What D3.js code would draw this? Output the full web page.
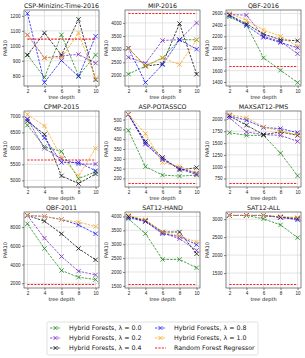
<!DOCTYPE html>
<html>
<head>
<meta charset="utf-8">
<script src="https://cdn.jsdelivr.net/npm/d3@7"></script>
<style>
  body { margin: 0; background: #fff; }
  svg { font-family: "DejaVu Sans", sans-serif; }
</style>
</head>
<body>
<svg id="chart" width="305" height="358"></svg>
<script>
// DATA
const depths = [2, 4, 6, 8, 10];
const lambdas = ["0.0", "0.2", "0.4", "0.8", "1.0"];
const seriesColors = ["#1e8a1e", "#7a2fc0", "#111111", "#1a1aff", "#ffa31a"];
const rfColor = "#ff2020";

const titles = ["CSP-Minizinc-Time-2016", "MIP-2016", "QBF-2016",
  "CPMP-2015", "ASP-POTASSCO", "MAXSAT12-PMS",
  "QBF-2011", "SAT12-HAND", "SAT12-ALL"];

// one array per panel: lambda 0.0, 0.2, 0.4, 0.8, 1.0
const cspValues = [
  [939, 789, 1073, 800, 939],
  [1073, 920, 932, 943, 884],
  [939, 1086, 939, 1177, 773],
  [1216, 755, 902, 795, 1064],
  [1073, 920, 920, 1086, 780]];
const mipValues = [
  [2051, 2359, 2667, 3359, 3359],
  [2692, 2462, 3333, 3359, 4000],
  [3038, 2359, 2436, 3974, 2051],
  [3038, 1731, 2410, 3359, 3000],
  [3038, 2359, 2667, 2410, 3359]];
const qbf16Values = [
  [2540, 2400, 1824, 1606, 1391],
  [2582, 2570, 2200, 2110, 1895],
  [2570, 2418, 2240, 2140, 2122],
  [2570, 2388, 2182, 2090, 2000],
  [2600, 2480, 2310, 2200, 2030]];
const cpmpValues = [
  [6725, 6050, 5900, 5050, 5270],
  [6915, 6000, 5670, 5510, 5510],
  [6850, 6440, 5140, 4900, 5200],
  [6915, 6330, 5560, 5560, 5300],
  [7060, 6700, 5720, 5140, 6000]];
const aspValues = [
  [445, 260, 217, 212, 217],
  [526, 374, 300, 248, 220],
  [526, 388, 307, 243, 255],
  [526, 379, 295, 252, 226],
  [526, 428, 281, 260, 229]];
const maxsatValues = [
  [1721, 1664, 1664, 1286, 807],
  [2036, 1736, 1679, 1664, 1536],
  [2079, 1879, 1679, 1736, 1664],
  [2079, 1986, 1829, 1807, 1721],
  [2107, 2036, 1843, 1757, 1679]];
const qbf11Values = [
  [8357, 5714, 3357, 2643, 2393],
  [9250, 6821, 4857, 3286, 2893],
  [9250, 8643, 7286, 5714, 4500],
  [9250, 9143, 8821, 8250, 7286],
  [9250, 9143, 8821, 8536, 8071]];
const sathandValues = [
  [3916, 3380, 2452, 2452, 2150],
  [4000, 3820, 3410, 3200, 2775],
  [4000, 3855, 3440, 3440, 2655],
  [3950, 3820, 3375, 3280, 2985],
  [4035, 3880, 3440, 3295, 3080]];
const satallValues = [
  [3103, 3103, 3009, 2840, 2484],
  [3103, 3103, 3103, 3047, 3000],
  [3103, 3103, 3103, 3056, 3028],
  [3103, 3103, 3103, 3056, 2981],
  [3103, 3103, 3103, 3075, 3047]];

const rfValues = [1045, 4359, 1672, 5637, 174, 643, 1857, 1548, 1181];
const yTicks = [
  [800, 900, 1000, 1100, 1200],
  [2000, 2500, 3000, 3500, 4000],
  [1400, 1600, 1800, 2000, 2200, 2400, 2600],
  [5000, 5500, 6000, 6500, 7000],
  [200, 250, 300, 350, 400, 450, 500],
  [750, 1000, 1250, 1500, 1750, 2000],
  [2000, 4000, 6000, 8000],
  [1500, 2000, 2500, 3000, 3500, 4000],
  [1500, 2000, 2500, 3000]];

const allValues = [cspValues, mipValues, qbf16Values, cpmpValues, aspValues,
  maxsatValues, qbf11Values, sathandValues, satallValues];

// LAYOUT
const colX = [24, 125, 226];
const rowY = [10, 111, 212];
const pw = 75, ph = 76;

const svg = d3.select("#chart");

const x = d3.scaleLinear().domain([1.6, 10.4]).range([0, pw]);

const line = (y) => d3.line().x((d, i) => x(depths[i])).y(d => y(d));

allValues.forEach((vals, p) => {
  const g = svg.append("g")
    .attr("transform", `translate(${colX[p % 3]},${rowY[Math.floor(p / 3)]})`);

  const flat = vals.flat().concat([rfValues[p]]);
  const lo = d3.min(flat), hi = d3.max(flat), pad = (hi - lo) * 0.05;
  const y = d3.scaleLinear().domain([lo - pad, hi + pad]).range([ph, 0]);

  // grid
  g.append("g").selectAll("line").data(depths).join("line")
    .attr("x1", d => x(d)).attr("x2", d => x(d))
    .attr("y1", 0).attr("y2", ph)
    .attr("stroke", "#d8d8d8").attr("stroke-width", 0.7);
  g.append("g").selectAll("line").data(yTicks[p]).join("line")
    .attr("x1", 0).attr("x2", pw)
    .attr("y1", d => y(d)).attr("y2", d => y(d))
    .attr("stroke", "#d8d8d8").attr("stroke-width", 0.7);

  // axes
  const xa = g.append("g").attr("transform", `translate(0,${ph})`)
    .call(d3.axisBottom(x).tickValues(depths).tickFormat(d3.format("d")).tickSize(2).tickPadding(1.5));
  const ya = g.append("g")
    .call(d3.axisLeft(y).tickValues(yTicks[p]).tickFormat(d3.format("d")).tickSize(2).tickPadding(1.5));
  [xa, ya].forEach(a => {
    a.select(".domain").remove();
    a.selectAll("line").attr("stroke", "#333").attr("stroke-width", 0.6);
    a.selectAll("text").attr("font-size", 4.6).attr("fill", "#222");
  });

  // RF line
  g.append("line")
    .attr("x1", x(2)).attr("x2", x(10))
    .attr("y1", y(rfValues[p])).attr("y2", y(rfValues[p]))
    .attr("stroke", rfColor).attr("stroke-width", 1.1)
    .attr("stroke-dasharray", "2.2,1.2");

  // series
  vals.forEach((s, k) => {
    g.append("path").datum(s)
      .attr("d", line(y))
      .attr("fill", "none")
      .attr("stroke", seriesColors[k])
      .attr("stroke-width", 0.8)
      .attr("stroke-dasharray", "2.4,1.2");
    g.append("g").selectAll("path").data(s).join("path")
      .attr("d", (d, i) => {
        const cx = x(depths[i]), cy = y(d), r = 2.2;
        return `M${cx - r},${cy - r}L${cx + r},${cy + r}M${cx - r},${cy + r}L${cx + r},${cy - r}`;
      })
      .attr("stroke", seriesColors[k])
      .attr("stroke-width", 0.8);
  });

  // frame
  g.append("rect").attr("width", pw).attr("height", ph)
    .attr("fill", "none").attr("stroke", "#333").attr("stroke-width", 0.6);

  // labels
  g.append("text").attr("x", pw / 2).attr("y", -2.2)
    .attr("text-anchor", "middle").attr("font-size", 6.3).attr("fill", "#111")
    .text(titles[p]);
  g.append("text").attr("x", pw / 2).attr("y", ph + 13)
    .attr("text-anchor", "middle").attr("font-size", 5).attr("fill", "#111")
    .text("tree depth");
  g.append("text")
    .attr("transform", `translate(-17.5,${ph / 2}) rotate(-90)`)
    .attr("text-anchor", "middle").attr("font-size", 5).attr("fill", "#111")
    .text("PAR10");
});

// LEGEND
const leg = svg.append("g").attr("transform", "translate(47,322)");
leg.append("rect").attr("width", 211).attr("height", 33).attr("rx", 1.5)
  .attr("fill", "#fff").attr("stroke", "#ccc").attr("stroke-width", 0.6);

const legItems = lambdas.map((l, k) => ({label: `Hybrid Forests, \u03bb = ${l}`, color: seriesColors[k], marker: true}))
  .concat([{label: "Random Forest Regressor", color: rfColor, marker: false}]);

legItems.forEach((it, i) => {
  const col = Math.floor(i / 3), row = i % 3;
  const lg = leg.append("g").attr("transform", `translate(${3 + col * 105},${6 + row * 10})`);
  lg.append("line").attr("x1", 0).attr("x2", 11).attr("y1", 0).attr("y2", 0)
    .attr("stroke", it.color).attr("stroke-width", it.marker ? 0.8 : 1.1)
    .attr("stroke-dasharray", it.marker ? "2.4,1.2" : "2.2,1.2");
  if (it.marker) {
    lg.append("path").attr("d", "M3.5,-2L7.5,2M3.5,2L7.5,-2")
      .attr("stroke", it.color).attr("stroke-width", 0.8);
  }
  lg.append("text").attr("x", 19).attr("y", 2.3)
    .attr("font-size", 6.3).attr("fill", "#111").text(it.label);
});
</script>
</body>
</html>
